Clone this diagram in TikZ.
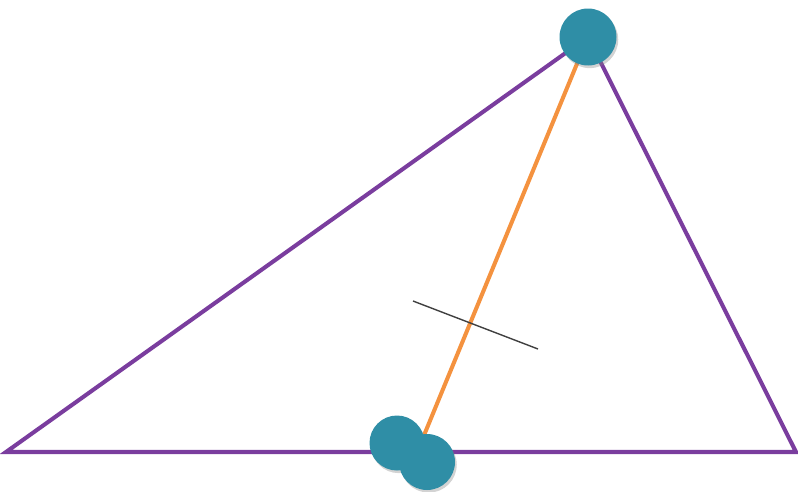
\documentclass[tikz,border=0pt]{standalone}
\usepackage{xcolor}
\usepackage{tikz}
\usetikzlibrary{shadows}

\definecolor{triline}{HTML}{7A3D9E}
\definecolor{cevian}{HTML}{F4923F}
\definecolor{ballteal}{HTML}{2F8EA6}

\begin{document}
\begin{tikzpicture}[
    x=0.02cm,y=-0.02cm,
    side/.style={line width=2.3pt,triline},
    median/.style={line width=2.3pt,cevian},
    tick/.style={line width=0.8pt,black!75},
    ball/.style={circle,fill=ballteal,inner sep=0pt,minimum size=1.14cm,
        drop shadow={shadow xshift=1pt,shadow yshift=-1.5pt,opacity=0.35}},
]
    \path[use as bounding box] (0,0) rectangle (798,491);

    % triangle corners
    \coordinate (left) at (6,452);
    \coordinate (apex) at (588,37);
    \coordinate (right) at (796,452);
    \draw[side,line join=miter] (left) -- (apex) -- (right) -- cycle;

    % segment down to the base and its mark
    \coordinate (foot) at (420,445);
    \draw[median] (apex) -- (foot);
    \coordinate (tickA) at (413,301);
    \coordinate (tickB) at (538,349);
    \draw[tick] (tickA) -- (tickB);

    % the balls
    \node[ball] (top) at (apex) {};
    \node[ball,minimum size=1.1cm] (low) at (397,443) {};
    \node[ball,minimum size=1.12cm] (front) at (427,462) {};
\end{tikzpicture}
\end{document}
